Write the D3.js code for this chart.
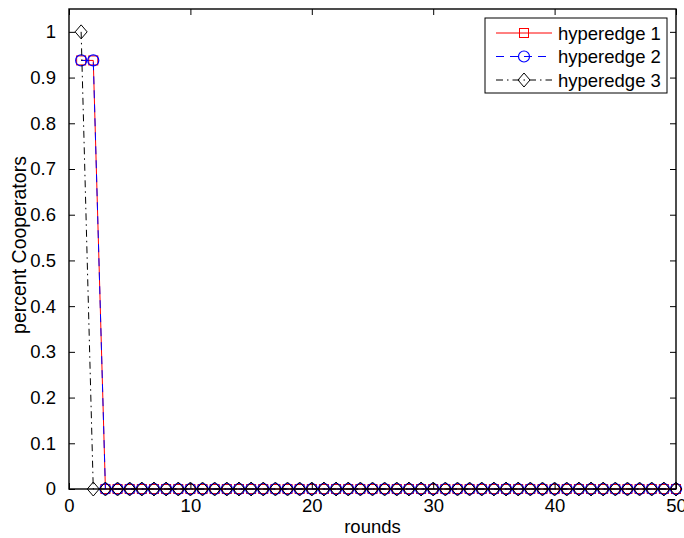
<!DOCTYPE html>
<html>
<head>
<meta charset="utf-8">
<script src="https://cdn.jsdelivr.net/npm/d3@7"></script>
<style>
  body { margin: 0; background: #fff; }
  text { font-family: "Liberation Sans", Arial, sans-serif; fill: #000; }
</style>
</head>
<body>
<div id="chart"></div>
<script>
var rounds = d3.range(1, 51);
var edge1 = [0.9375, 0.9375].concat(d3.range(48).map(() => 0));
var edge2 = [0.9375, 0.9375].concat(d3.range(48).map(() => 0));
var edge3 = [1, 0].concat(d3.range(48).map(() => 0));
var xTicks = [0, 10, 20, 30, 40, 50];
var yTicks = [0, 0.1, 0.2, 0.3, 0.4, 0.5, 0.6, 0.7, 0.8, 0.9, 1];
var seriesNames = ["hyperedge 1", "hyperedge 2", "hyperedge 3"];

var width = 684, height = 538;
var margin = {top: 9, right: 8, bottom: 49, left: 69};
var graphWidth = width - margin.left - margin.right;
var graphHeight = height - margin.top - margin.bottom;

var svg = d3.select("#chart").append("svg")
  .attr("width", width).attr("height", height)
  .append("g")
  .attr("transform", "translate(" + margin.left + "," + margin.top + ")");

var x = d3.scaleLinear().domain([0, 50]).range([0, graphWidth]);
var y = d3.scaleLinear().domain([0, 1.05]).range([graphHeight, 0]);

var series = [
  {name: seriesNames[0], values: edge1, color: "#ff0000", dash: null, marker: "square"},
  {name: seriesNames[1], values: edge2, color: "#0000ff", dash: "8,6", marker: "circle"},
  {name: seriesNames[2], values: edge3, color: "#000000", dash: "7,4,1.5,4", marker: "diamond"}
];

function drawMarker(g, type, color) {
  if (type === "square") {
    g.append("rect").attr("x", -4.5).attr("y", -4.5).attr("width", 9).attr("height", 9)
      .attr("fill", "none").attr("stroke", color).attr("stroke-width", 1);
  } else if (type === "circle") {
    g.append("circle").attr("r", 5.5)
      .attr("fill", "none").attr("stroke", color).attr("stroke-width", 1.2);
  } else {
    g.append("path").attr("d", "M0,-7L6,0L0,7L-6,0Z")
      .attr("fill", "none").attr("stroke", color).attr("stroke-width", 1);
  }
}

var line = d3.line().x((d, i) => x(rounds[i])).y(d => y(d));

series.forEach(function(s) {
  svg.append("path")
    .datum(s.values)
    .attr("d", line)
    .attr("fill", "none")
    .attr("stroke", s.color)
    .attr("stroke-width", 1)
    .attr("stroke-dasharray", s.dash);
  s.values.forEach(function(v, i) {
    var g = svg.append("g").attr("transform", "translate(" + x(rounds[i]) + "," + y(v) + ")");
    drawMarker(g, s.marker, s.color);
  });
});

// box with inward ticks
svg.append("g")
  .attr("transform", "translate(0," + graphHeight + ")")
  .call(d3.axisBottom(x).tickValues(xTicks).tickSize(-6).tickPadding(10).tickSizeOuter(0))
  .call(g => g.selectAll("text").style("font-size", "18.5px"));
svg.append("g")
  .call(d3.axisTop(x).tickValues(xTicks).tickSize(-6).tickSizeOuter(0).tickFormat(""));
svg.append("g")
  .call(d3.axisLeft(y).tickValues(yTicks).tickSize(-6).tickPadding(13).tickSizeOuter(0)
    .tickFormat(d3.format("")))
  .call(g => g.selectAll("text").style("font-size", "18.5px"));
svg.append("g")
  .attr("transform", "translate(" + graphWidth + ",0)")
  .call(d3.axisRight(y).tickValues(yTicks).tickSize(-6).tickSizeOuter(0).tickFormat(""));
svg.selectAll(".domain").remove();
svg.append("rect")
  .attr("width", graphWidth).attr("height", graphHeight)
  .attr("fill", "none").attr("stroke", "#000").attr("stroke-width", 1.4);
svg.selectAll(".tick line").attr("stroke", "#000");

// labels
svg.append("text")
  .attr("x", graphWidth / 2).attr("y", graphHeight + 44)
  .style("text-anchor", "middle").style("font-size", "18.5px")
  .text("rounds");
svg.append("text")
  .attr("transform", "rotate(-90)")
  .attr("x", -graphHeight / 2 + 4).attr("y", -margin.left + 26)
  .style("text-anchor", "middle").style("font-size", "19.5px")
  .text("percent Cooperators");

// legend
var legend = svg.append("g").attr("transform", "translate(" + (485 - margin.left) + "," + (18 - margin.top) + ")");
legend.append("rect").attr("width", 182).attr("height", 75)
  .attr("fill", "#fff").attr("stroke", "#000").attr("stroke-width", 1);
series.forEach(function(s, i) {
  var ly = 15 + i * 23.5;
  legend.append("line").attr("x1", 11).attr("x2", 67).attr("y1", ly).attr("y2", ly)
    .attr("stroke", s.color).attr("stroke-width", 1).attr("stroke-dasharray", s.dash);
  var g = legend.append("g").attr("transform", "translate(39," + ly + ")");
  drawMarker(g, s.marker, s.color);
  legend.append("text").attr("x", 73).attr("y", ly + 6.5)
    .style("font-size", "18.5px").text(s.name);
});
</script>
</body>
</html>
